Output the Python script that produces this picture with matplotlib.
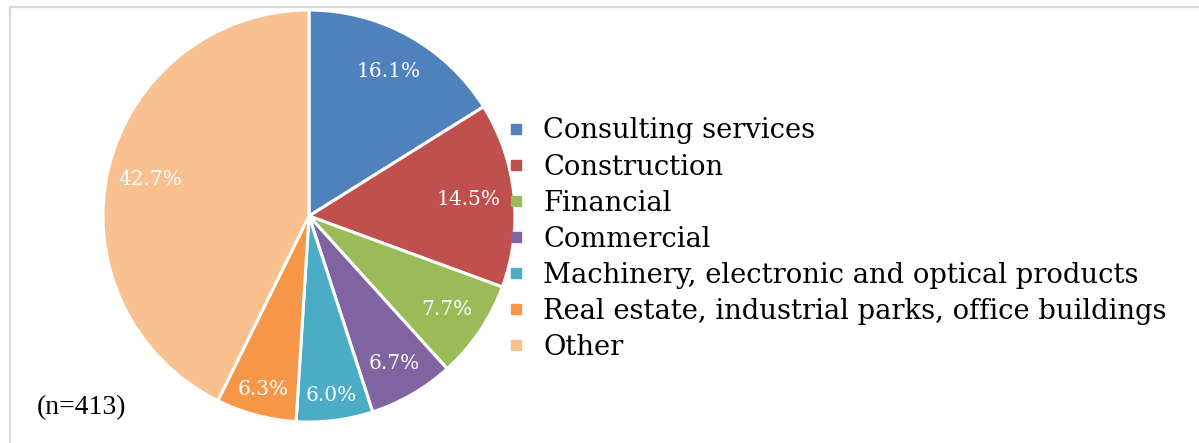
import numpy as np
import matplotlib
matplotlib.use("Agg")
import matplotlib.pyplot as plt
from matplotlib.lines import Line2D

# Sector shares of respondents (%)
categories = [
    "Consulting services",
    "Construction",
    "Financial",
    "Commercial",
    "Machinery, electronic and optical products",
    "Real estate, industrial parks, office buildings",
    "Other",
]
shares = [16.1, 14.5, 7.7, 6.7, 6.0, 6.3, 42.7]
sample_note = "(n=413)"

colors = ["#4F81BD", "#C0504D", "#9BBB59", "#8064A2", "#4BACC6", "#F79646", "#F9C090"]
# radial position of each percentage label (fraction of the radius)
label_radius = [0.80, 0.78, 0.81, 0.83, 0.88, 0.87, 0.79]

W, H = 1199, 443
fig = plt.figure(figsize=(W / 100, H / 100), dpi=100)
fig.patch.set_facecolor("white")

# light frame around the chart area
fig.add_artist(Line2D([9.5 / W, 1], [1 - 6.5 / H, 1 - 6.5 / H], color="#d9d9d9", lw=1.6,
                      transform=fig.transFigure))
fig.add_artist(Line2D([9.5 / W, 9.5 / W], [0, 1 - 6.5 / H], color="#d9d9d9", lw=1.6,
                      transform=fig.transFigure))

cx, cy, r = 309, 216, 206
ax = fig.add_axes([(cx - r) / W, (H - cy - r) / H, 2 * r / W, 2 * r / H])
wedges, _ = ax.pie(shares, colors=colors, startangle=90, counterclock=False, radius=1,
                   wedgeprops=dict(edgecolor="white", linewidth=2.2))
ax.set_xlim(-1, 1)
ax.set_ylim(-1, 1)
ax.set_aspect("equal")
ax.axis("off")

serif = "DejaVu Serif"
for w, v, rr in zip(wedges, shares, label_radius):
    ang = np.deg2rad((w.theta1 + w.theta2) / 2)
    ax.text(rr * np.cos(ang), rr * np.sin(ang), f"{v:.1f}%", ha="center", va="center",
            color="white", fontsize=14.5, family=serif)

handles = [Line2D([], [], marker="s", linestyle="none", markersize=6.5, color=c) for c in colors]
fig.legend(handles, categories, loc="upper left", bbox_to_anchor=(508 / W, 1 - 117.5 / H),
           frameon=False, prop=dict(family=serif, size=19.7), handlelength=0.6,
           handletextpad=0.685, labelspacing=0.33, borderpad=0, borderaxespad=0)

fig.text(37 / W, 1 - 408 / H, sample_note, ha="left", va="center", fontsize=20,
         family="Liberation Serif")

fig.savefig("out.png", dpi=100, facecolor="white")
